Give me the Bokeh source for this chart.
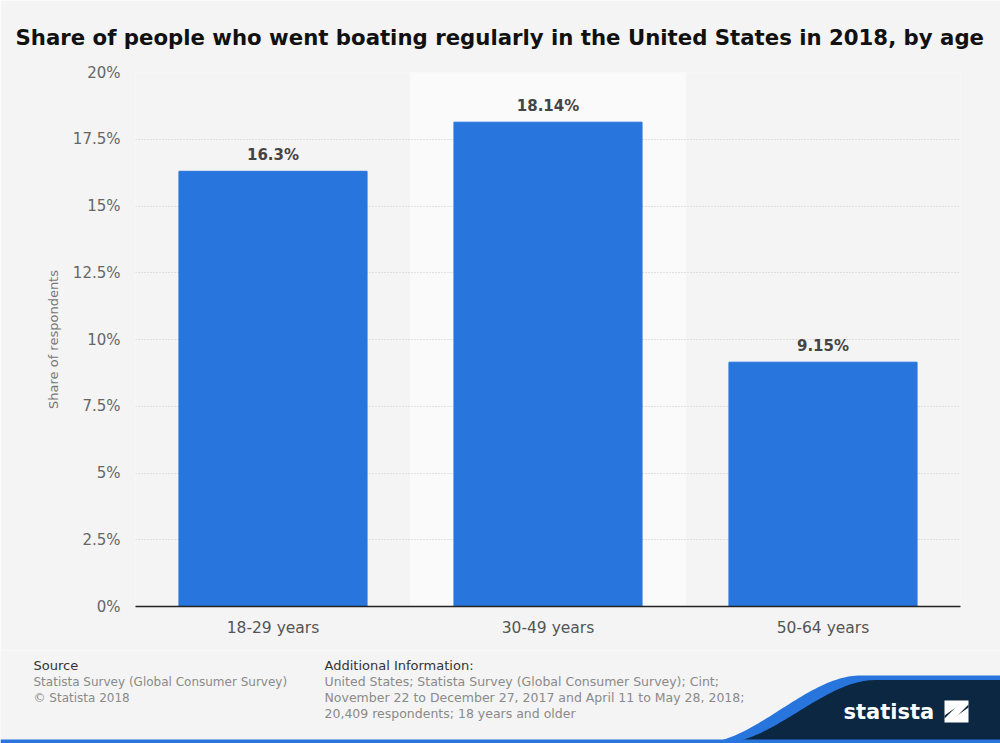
import numpy as np
from bokeh.plotting import figure
from bokeh.layouts import column
from bokeh.models import FixedTicker, CustomJSTickFormatter, Range1d, ColumnDataSource
from bokeh.core.properties import value
from bokeh.embed import file_html
from bokeh.resources import INLINE

# ---- data ----
categories = ["18-29 years", "30-49 years", "50-64 years"]
shares = [16.3, 18.14, 9.15]
highlight = ["30-49 years"]
y_ticks = [0, 2.5, 5, 7.5, 10, 12.5, 15, 17.5, 20]
title_text = "Share of people who went boating regularly in the United States in 2018, by age"
y_label = "Share of respondents"
source_lines = ["Statista Survey (Global Consumer Survey)", "\u00a9 Statista 2018"]
info_lines = ["United States; Statista Survey (Global Consumer Survey); Cint;",
              "November 22 to December 27, 2017 and April 11 to May 28, 2018;",
              "20,409 respondents; 18 years and older"]

BG = "#f4f4f4"
BAR = "#2876dd"
FONT = "DejaVu Sans"

p = figure(width=1000, height=650, x_range=categories, y_range=Range1d(0, 20),
           output_backend="svg", toolbar_location=None,
           min_border_left=135, min_border_right=40, min_border_top=72, min_border_bottom=44)
p.frame_align = False
p.background_fill_color = BG
p.border_fill_color = BG
p.outline_line_color = None

p.title.text = title_text
p.title.text_font = FONT
p.title.text_font_size = "21.25px"
p.title.text_font_style = "bold"
p.title.text_color = "#111111"
p.title.align = "left"
p.title.offset = -120
p.title.standoff = 45

# highlight band
p.vbar(x=highlight, top=[20] * len(highlight), width=1.0, color="#fafafa", level="underlay")

src = ColumnDataSource(dict(x=categories, top=shares, lab=[f"{v}%" for v in shares]))
p.vbar(x="x", top="top", width=0.684, source=src, color=BAR, line_color=BAR)
p.text(x="x", y="top", text="lab", source=src, text_align="center", text_baseline="bottom",
       y_offset=-7, text_font=value(FONT), text_font_style="bold", text_font_size="15px",
       text_color="#444444")

p.yaxis.ticker = FixedTicker(ticks=y_ticks)
p.yaxis.formatter = CustomJSTickFormatter(code="return tick + '%';")
p.yaxis.axis_line_color = None
p.yaxis.major_tick_line_color = None
p.yaxis.minor_tick_line_color = None
p.yaxis.major_tick_out = 0
p.yaxis.major_tick_in = 0
p.yaxis.major_label_text_font = FONT
p.yaxis.major_label_text_font_size = "15px"
p.yaxis.major_label_text_color = "#666666"
p.yaxis.major_label_standoff = 15
p.yaxis.axis_label = y_label
p.yaxis.axis_label_text_font = FONT
p.yaxis.axis_label_text_font_size = "13px"
p.yaxis.axis_label_text_font_style = "normal"
p.yaxis.axis_label_text_color = "#777777"
p.yaxis.axis_label_standoff = 9

p.xaxis.axis_line_color = "#222222"
p.xaxis.axis_line_width = 1.5
p.xaxis.major_tick_line_color = None
p.xaxis.minor_tick_line_color = None
p.xaxis.major_tick_out = 0
p.xaxis.major_tick_in = 0
p.xaxis.major_label_text_font = FONT
p.xaxis.major_label_text_font_size = "15.5px"
p.xaxis.major_label_text_color = "#555555"
p.xaxis.major_label_standoff = 12

p.xgrid.grid_line_color = None
p.ygrid.grid_line_color = "#c8c8c8"
p.ygrid.grid_line_dash = "1 2"
p.ygrid.grid_line_width = 1
p.x_range.range_padding = 0

# ---- footer ----
f = figure(width=1000, height=93, x_range=Range1d(0, 1000), y_range=Range1d(93, 0),
           output_backend="svg", toolbar_location=None,
           min_border=0, min_border_left=0, min_border_right=0, min_border_top=0, min_border_bottom=0)
f.frame_align = False
f.axis.visible = False
f.grid.visible = False
f.background_fill_color = BG
f.border_fill_color = BG
f.outline_line_color = None

f.text(x=[33], y=[15], text=["Source"], text_font=value(FONT), text_font_size="13px",
       text_color="#333333", text_baseline="middle")
f.text(x=[33] * len(source_lines), y=[31 + 16 * i for i in range(len(source_lines))], text=source_lines,
       text_font=value(FONT), text_font_size="12px", text_color="#8a8a8a", text_baseline="middle")
f.text(x=[324], y=[15], text=["Additional Information:"], text_font=value(FONT), text_font_size="13px",
       text_color="#333333", text_baseline="middle")
f.text(x=[324] * len(info_lines), y=[31 + 16 * i for i in range(len(info_lines))], text=info_lines,
       text_font=value(FONT), text_font_size="12.5px", text_color="#8a8a8a", text_baseline="middle")

# logo decoration
xs = np.linspace(680, 1000, 120)
def edge(x, x0, x1, ybot, ytop):
    t = np.clip((x - x0) / (x1 - x0), 0, 1)
    s = t * t * (3 - 2 * t)
    return ybot - (ybot - ytop) * s
blue_top = edge(xs, 700, 860, 93, 25)
navy_top = edge(xs, 720, 875, 93, 29.5)
f.patch(x=list(xs) + [1000, 680], y=list(blue_top) + [93, 93], color=BAR, line_color=None)
f.patch(x=list(xs) + [1000, 680], y=list(navy_top) + [93, 93], color="#0c2741", line_color=None)
f.quad(left=[0], right=[1000], top=[89], bottom=[93], color=BAR, line_color=None)
f.text(x=[843], y=[61], text=["statista"], text_font=value(FONT), text_font_style="bold",
       text_font_size="21px", text_color="white", text_baseline="middle")
f.patch(x=[944, 968, 968, 944], y=[50, 50, 72, 72], color="white", line_color=None)
f.patch(x=[944, 958, 954, 944], y=[65, 55, 58, 68], color="#0c2741", line_color=None)
f.patch(x=[968, 954, 958, 968], y=[57, 67, 64, 54], color="#0c2741", line_color=None)

layout = column(p, f, spacing=0)
open("out.html", "w").write(file_html(layout, INLINE))
